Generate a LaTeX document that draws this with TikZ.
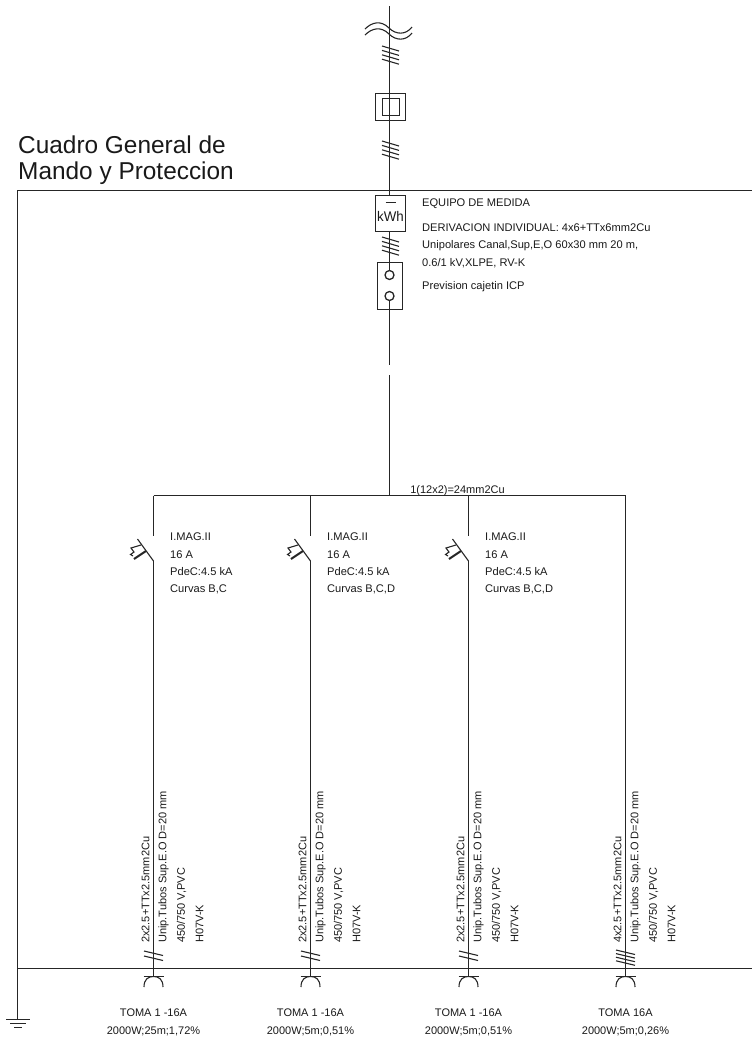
\documentclass[tikz,border=0pt]{standalone}
\usepackage{fontspec}
\setmainfont{Liberation Sans}
\usetikzlibrary{calc}
\tikzset{
  wire/.style={line width=1.4pt,black!85},
  symb/.style={line width=1.1pt,black!85},
  boxsym/.style={draw=black!85,line width=1.3pt,fill=none,inner sep=0pt,outer sep=0pt},
  lab/.style={anchor=west,inner sep=0pt,font=\fontsize{11.1}{13}\selectfont,text=black!90},
  ctr/.style={anchor=center,inner sep=0pt,font=\fontsize{11}{13}\selectfont,text=black!90},
  vert/.style={rotate=90,anchor=west,inner sep=0pt,font=\fontsize{11}{13}\selectfont,text=black!90},
  head/.style={anchor=west,inner sep=0pt,font=\fontsize{24.4}{28}\selectfont,text=black!90},
  ticks/.pic={\foreach \d in {0,4.4,8.8,13.2}{\draw[symb] (-7.5,\d) -- (9.5,\d+5);}},
  tickstwo/.pic={\foreach \d in {0,5}{\draw[symb] (-9.5,\d) -- (9.5,\d+4.5);}},
  ticksfour/.pic={\foreach \d in {0,3.6,7.2,10.8}{\draw[symb] (-9.5,\d) -- (9.5,\d+4.5);}},
}
\begin{document}
\begin{tikzpicture}[x=1pt,y=-1pt]
\useasboundingbox (0,0) rectangle (752,1037);
% heading
\node[head] (title1) at (18,145) {Cuadro General de};
\node[head] (title2) at (18,173) {Mando y Proteccion};
% frame
\coordinate (frameTL) at (17.5,190.5);
\coordinate (frameTR) at (752,190.5);
\coordinate (earth) at (17.5,1019.5);
\coordinate (lowL) at (17.5,968.5);
\coordinate (lowR) at (752,968.5);
\draw[wire] (frameTR) -- (frameTL) -- (earth);
\draw[wire] (lowL) -- (lowR);
% earth symbol
\draw[symb] (6,1019.5) -- (30,1019.5);
\draw[symb] (10,1023.5) -- (26,1023.5);
\draw[symb] (14,1027.5) -- (22,1027.5);
% incoming line
\coordinate (top) at (389.5,6);
\node[boxsym,minimum width=30pt,minimum height=27pt] (fuse) at (390.5,107) {};
\node[boxsym,minimum width=17pt,minimum height=17pt] (fuseIn) at (391,107) {};
\node[boxsym,minimum width=30pt,minimum height=36pt] (meter) at (390.5,213.5) {};
\node[inner sep=0pt,font=\fontsize{14}{14}\selectfont,text=black!90,xscale=0.95] (kwh) at (390.5,216) {kWh};
\draw[symb] (385.5,202.5) -- (395.5,202.5);
\node[boxsym,minimum width=25pt,minimum height=47pt] (icp) at (390,286) {};
\node[boxsym,circle,minimum size=9pt] (c1) at (389.5,275) {};
\node[boxsym,circle,minimum size=9pt] (c2) at (389.5,296) {};
\coordinate (breakA) at (389.5,365);
\coordinate (breakB) at (389.5,375);
\coordinate (busJ) at (389.5,495.5);
\draw[wire] (top) -- (meter.north -| top);
\draw[wire] (meter.south -| top) -- (c1.north);
\draw[wire] (c2.south) -- (breakA);
\draw[wire] (breakB) -- (busJ);
% wave
\draw[symb] (365,29) .. controls (372,22) and (381,20) .. (389,28) .. controls (396,35) and (406,35) .. (412,27);
\draw[symb] (365,35) .. controls (372,28) and (381,26) .. (389,34) .. controls (396,41) and (406,41) .. (412,33);
% tick groups
\pic at (389.5,46) {ticks};
\pic at (389.5,141) {ticks};
\pic at (389.5,237) {ticks};
% meter labels
\node[lab] (t1) at (422,204) {EQUIPO DE MEDIDA};
\node[lab] (t2) at (422,228) {DERIVACION INDIVIDUAL: 4x6+TTx6mm2Cu};
\node[lab] (t3) at (422,246) {Unipolares Canal,Sup,E,O 60x30 mm 20 m,};
\node[lab] (t4) at (422,263.5) {0.6/1 kV,XLPE, RV-K};
\node[lab] (t5) at (422,286.5) {Prevision cajetin ICP};
% bus
\coordinate (busL) at (153.5,495.5);
\coordinate (busR) at (625.5,495.5);
\draw[wire] (busL) -- (busR);
\node[ctr] (busLabel) at (457.5,491) {1(12x2)=24mm2Cu};
% protected branches
\foreach \n/\x/\curv in {1/153.5/{Curvas B,C},2/310.5/{Curvas B,C,D},3/468.5/{Curvas B,C,D}}{
  \coordinate (b\n top) at (\x,495.5);
  \coordinate (b\n a) at (\x,536);
  \coordinate (b\n b) at (\x,561);
  \coordinate (b\n s) at (\x,976.5);
  \draw[wire] (b\n top) -- (b\n a);
  \draw[wire] (b\n b) -- (b\n s);
  \begin{scope}[shift={(\x-153.5,0)}]
    \draw[symb] (153.5,561) -- (137.5,539);
    \draw[symb] (141,545) -- (131,548) -- (134,552) -- (130.5,554.5) -- (133,556);
    \draw[line width=2pt,black!85] (134,559) -- (146,551);
  \end{scope}
  \node[lab] (lA\n) at (\x+16.5,537) {I.MAG.II};
  \node[lab] (lB\n) at (\x+16.5,555) {16 A};
  \node[lab] (lC\n) at (\x+16.5,572) {PdeC:4.5 kA};
  \node[lab] (lD\n) at (\x+16.5,589) {\curv};
}
\coordinate (b4 top) at (625.5,495.5);
\coordinate (b4 s) at (625.5,976.5);
\draw[wire] (b4 top) -- (b4 s);
% feeder labels and sockets
\foreach \n/\x/\sect/\tm/\lo in {1/153.5/2x2.5+TTx2.5mm2Cu/TOMA 1 -16A/{2000W;25m;1,72\%},2/310.5/2x2.5+TTx2.5mm2Cu/TOMA 1 -16A/{2000W;5m;0,51\%},3/468.5/2x2.5+TTx2.5mm2Cu/TOMA 1 -16A/{2000W;5m;0,51\%},4/625.5/4x2.5+TTx2.5mm2Cu/TOMA 16A/{2000W;5m;0,26\%}}{
  \node[vert] (s\n) at (\x-8,943) {\sect};
  \node[vert] (u\n) at (\x+10,943) {Unip.Tubos Sup.E.O D=20 mm};
  \node[vert] (v\n) at (\x+28,943) {450/750 V,PVC};
  \node[vert] (h\n) at (\x+46,943) {H07V-K};
  \draw[symb] (\x-10,976.5) -- (\x+10,976.5);
  \draw[symb] (\x-9.5,987) .. controls (\x-9.5,979) and (\x-5,976.5) .. (\x,976.5) .. controls (\x+5,976.5) and (\x+9.5,979) .. (\x+9.5,987);
  \node[ctr] (tm\n) at (\x,1013) {\tm};
  \node[ctr] (lo\n) at (\x,1031) {\lo};
}
\pic at (153.5,951) {tickstwo};
\pic at (310.5,951) {tickstwo};
\pic at (468.5,951) {tickstwo};
\pic at (625.5,950) {ticksfour};
\end{tikzpicture}
\end{document}
